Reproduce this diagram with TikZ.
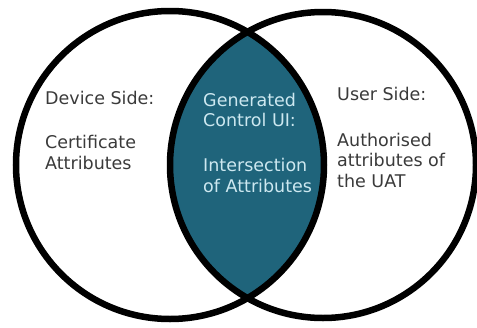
\documentclass[tikz,border=0pt]{standalone}
\usepackage{fontspec}
\setmainfont{DejaVu Sans}
\definecolor{vennteal}{RGB}{31,100,123}
\definecolor{venntext}{RGB}{58,58,58}
\definecolor{vennlight}{RGB}{205,232,240}

\begin{document}
\begin{tikzpicture}[x=1pt,y=-1pt,
			every node/.style={inner sep=0,anchor=base west,align=left,
				font=\fontsize{17.5}{20.5}\selectfont},
			ring/.style={line width=6.5pt}]
			\useasboundingbox (0,0) rectangle (477,327);
			\coordinate (devc) at (170,165);
			\coordinate (userc) at (323,165);
			% shared part
			\begin{scope}
				\clip (devc) circle (154);
				\fill[vennteal] (userc) circle (153);
			\end{scope}
			\draw[ring] (devc) circle (154);
			\draw[ring] (userc) circle (153);
			% nodes sit on the baseline of their last line
			\node[text=venntext](device) at (45,169) {Device Side:\\[23.5pt] Certificate\\ Attributes};
			\node[text=vennlight](control) at (203,192) {Generated\\ Control UI:\\[24.5pt] Intersection\\ of Attributes};
			\node[text=venntext](user) at (337,187) {User Side:\\[25.5pt] Authorised\\ attributes of\\ the UAT};
		\end{tikzpicture}
\end{document}
